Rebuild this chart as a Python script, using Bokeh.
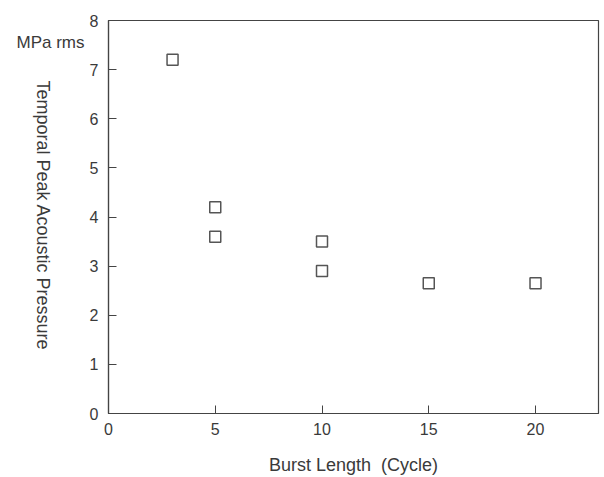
import math
from bokeh.plotting import figure
from bokeh.layouts import row
from bokeh.models import Range1d, FixedTicker
from bokeh.core.properties import value
from bokeh.embed import file_html
from bokeh.resources import INLINE

burst_cycles = [3, 5, 5, 10, 10, 15, 20]
pressure_mpa = [7.2, 4.2, 3.6, 3.5, 2.9, 2.65, 2.65]
x_ticks = [0, 5, 10, 15, 20]
y_ticks = [0, 1, 2, 3, 4, 5, 6, 7, 8]
unit_label = "MPa rms"
y_title = "Temporal Peak Acoustic Pressure"
x_title = "Burst Length\u00a0 (Cycle)"

FONT = "Liberation Sans"
TXT = "#3a3a3a"
H = 477
LW = 86
TOP, BOTTOM = 20, 413

# left strip holding the unit and the (top-to-bottom) y title;
# its frame is aligned with the main frame, so map page pixels TOP..BOTTOM
left = figure(width=LW, height=H, output_backend="svg", toolbar_location=None,
              x_range=Range1d(0, LW), y_range=Range1d(BOTTOM, TOP),
              x_axis_location=None, y_axis_location=None,
              min_border_left=0, min_border_right=0, min_border_top=0, min_border_bottom=0)
left.grid.visible = False
left.outline_line_color = None
left.background_fill_color = "white"
left.border_fill_color = "white"
left.text(x=[50], y=[42], text=[unit_label], text_align="center", text_baseline="middle",
          text_font=value(FONT), text_font_size="17px", text_color=TXT)
left.text(x=[42], y=[215], text=[y_title], angle=-math.pi / 2,
          text_align="center", text_baseline="middle",
          text_font=value(FONT), text_font_size="18px", text_color=TXT)

p = figure(width=600 - LW, height=H, output_backend="svg", toolbar_location=None,
           x_range=Range1d(0, 22.95), y_range=Range1d(0, 8),
           min_border_left=108 - LW, min_border_right=2, min_border_top=TOP,
           min_border_bottom=H - BOTTOM)
p.grid.visible = False
p.background_fill_color = "white"
p.border_fill_color = "white"
p.outline_line_color = "#444444"
p.outline_line_width = 1.2

for ax in (p.xaxis[0], p.yaxis[0]):
    ax.axis_line_color = "#444444"
    ax.axis_line_width = 1.2
    ax.major_tick_in = 8
    ax.major_tick_out = 0
    ax.major_tick_line_color = "#444444"
    ax.minor_tick_line_color = None
    ax.major_label_text_font = FONT
    ax.major_label_text_font_size = "16px"
    ax.major_label_text_color = TXT

p.xaxis.ticker = FixedTicker(ticks=x_ticks)
p.yaxis.ticker = FixedTicker(ticks=y_ticks)
p.xaxis.major_label_standoff = 9
p.yaxis.major_label_standoff = 10

p.xaxis.axis_label = x_title
p.xaxis.axis_label_text_font = FONT
p.xaxis.axis_label_text_font_size = "18px"
p.xaxis.axis_label_text_font_style = "normal"
p.xaxis.axis_label_text_color = TXT
p.xaxis.axis_label_standoff = 17

p.scatter(burst_cycles, pressure_mpa, marker="square", size=11,
          fill_color=None, line_color="#555555", line_width=1.5)

layout = row(left, p, spacing=0)
open("out.html", "w").write(file_html(layout, INLINE))
